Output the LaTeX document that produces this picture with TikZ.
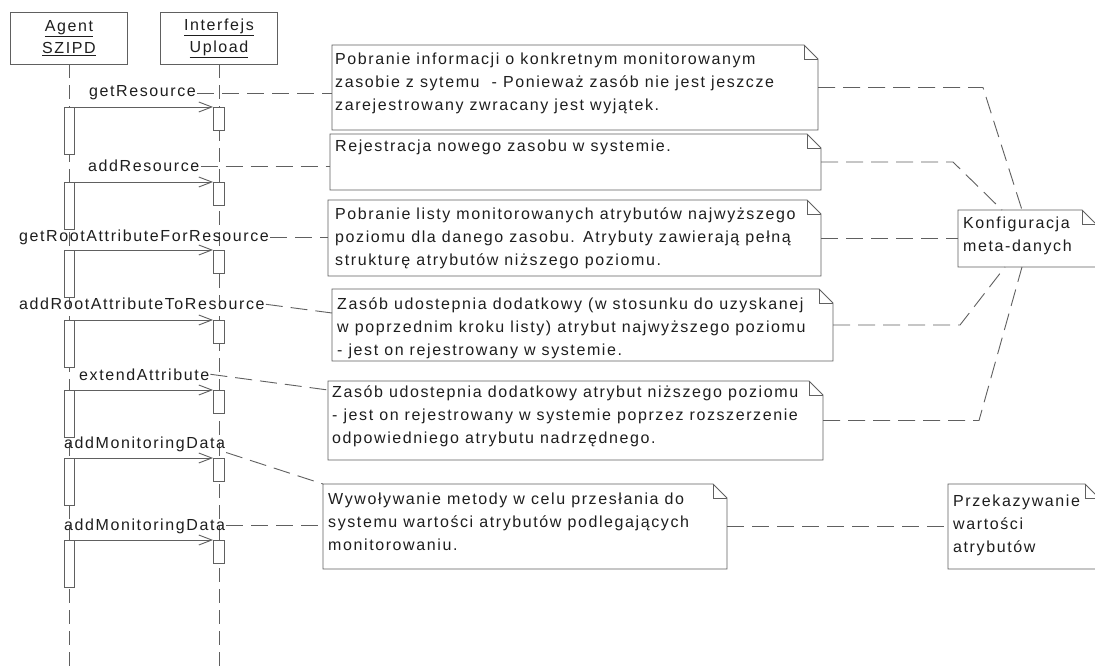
\documentclass[tikz,border=0pt]{standalone}
\usepackage{fontspec}
\setmainfont{Liberation Sans}[LetterSpace=10]
\usetikzlibrary{arrows.meta}
\definecolor{lc}{HTML}{606060}
\definecolor{txt}{HTML}{1E1E1E}

% multi-line note text; the node baseline is the first line's baseline
\newcommand\notelines[1]{\vtop{\halign{##\hfil\cr#1\crcr}}}
% UML note outline with a folded top-right corner
\newcommand\foldednote[1]{%
  \draw[ln] (#1.north west) -- ([xshift=-14pt]#1.north east)
    -- ([yshift=-14pt]#1.north east) -- (#1.south east)
    -- (#1.south west) -- cycle;
  \draw[ln] ([xshift=-14pt]#1.north east) |- ([yshift=-14pt]#1.north east);}

\begin{document}
\begin{tikzpicture}[x=1pt,y=-1pt,
  every node/.style={text=txt},
  ln/.style={draw=lc, line width=0.9pt},
  headbox/.style={draw=lc, line width=0.9pt, fill=white, minimum width=117pt,
    minimum height=52pt, inner sep=0pt, align=center,
    font=\fontsize{16}{22}\selectfont},
  actbar/.style={draw=lc, line width=0.9pt, fill=white, minimum width=10pt,
    inner sep=0pt, anchor=north},
  lifeline/.style={draw=lc, line width=0.9pt, dash pattern=on 14pt off 7pt},
  msg/.style={draw=lc, line width=0.9pt, -{Straight Barb[length=13pt,width=10pt]}},
  lbl/.style={inner sep=1pt, anchor=base west, font=\fontsize{16}{22}\selectfont},
  conn/.style={draw=lc, line width=0.9pt, dash pattern=on 17pt off 8pt},
  notebox/.style={draw=none, inner sep=0pt, outer sep=0pt, anchor=north west},
  notetext/.style={inner sep=0pt, anchor=base west, font=\fontsize{16}{23}\selectfont},
]
\fill[white] (0,0) rectangle (1095,668);
\useasboundingbox (0,0) rectangle (1095,668);

% lifeline heads
\node[headbox] (ha) at (69,38) {\underline{Agent}\\\underline{SZIPD}};
\node[headbox] (hb) at (219,38) {\underline{Interfejs}\\\underline{Upload}};
\coordinate (aend) at (69,668);
\coordinate (bend) at (219,668);
\draw[lifeline] (ha.south) -- (aend);
\draw[lifeline] (hb.south) -- (bend);

% activation bars
\foreach \i/\y in {1/107,2/182,3/250,4/320,5/390,6/458,7/540}{
  \node[actbar, minimum height=47pt] (a\i) at (69,\y) {};
  \node[actbar, minimum height=23pt, minimum width=11pt] (b\i) at (219,\y) {};
}

% messages
\foreach \i in {1,...,7}{
  \draw[msg] (a\i.north east) -- (b\i.north west);
}

% message labels
\node[lbl] (l1) at (88,97) {getResource};
\node[lbl] (l2) at (87,172) {addResource};
\node[lbl] (l3) at (18,242) {getRootAttributeForResource};
\node[lbl] (l4) at (18,310) {addRootAttributeToResource};
\node[lbl] (l5) at (78,380) {extendAttribute};
\node[lbl] (l6) at (63,448) {addMonitoringData};
\node[lbl] (l7) at (63,530) {addMonitoringData};

% notes
\node[notebox, minimum width=486pt, minimum height=85pt] (n1) at (332,45) {};
\node[notetext] (t1) at (335,65) {\notelines{Pobranie informacji o konkretnym monitorowanym\cr
  zasobie z sytemu~ - Ponieważ zasób nie jest jeszcze\cr
  zarejestrowany zwracany jest wyjątek.}};
\node[notebox, minimum width=491pt, minimum height=56pt] (n2) at (330,134) {};
\node[notetext] (t2) at (335,152) {\notelines{Rejestracja nowego zasobu w systemie.}};
\node[notebox, minimum width=493pt, minimum height=76pt] (n3) at (328,200) {};
\node[notetext] (t3) at (335,220) {\notelines{Pobranie listy monitorowanych atrybutów najwyższego\cr
  poziomu dla danego zasobu. Atrybuty zawierają pełną\cr
  strukturę atrybutów niższego poziomu.}};
\node[notebox, minimum width=501pt, minimum height=72pt] (n4) at (332,289) {};
\node[notetext] (t4) at (337,310) {\notelines{Zasób udostepnia dodatkowy (w stosunku do uzyskanej\cr
  w poprzednim kroku listy) atrybut najwyższego poziomu\cr
  - jest on rejestrowany w systemie.}};
\node[notebox, minimum width=495pt, minimum height=79pt] (n5) at (328,381) {};
\node[notetext] (t5) at (332,397) {\notelines{Zasób udostepnia dodatkowy atrybut niższego poziomu\cr
  - jest on rejestrowany w systemie poprzez rozszerzenie\cr
  odpowiedniego atrybutu nadrzędnego.}};
\node[notebox, minimum width=404pt, minimum height=85pt] (n6) at (323,484) {};
\node[notetext] (t6) at (328,504) {\notelines{Wywoływanie metody w celu przesłania do\cr
  systemu wartości atrybutów podlegających\cr
  monitorowaniu.}};
\node[notebox, minimum width=138pt, minimum height=57pt] (k) at (958,210) {};
\node[notetext] (tk) at (963,229) {\notelines{Konfiguracja\cr meta-danych}};
\node[notebox, minimum width=151pt, minimum height=85pt] (p) at (948,484) {};
\node[notetext] (tp) at (953,506) {\notelines{Przekazywanie\cr wartości\cr atrybutów}};

\foreach \n in {n1,n2,n3,n4,n5,n6,k,p}{\foldednote{\n}}

% anchors from messages to notes
\draw[conn] (l1.east) -- (l1.east -| n1.west);
\draw[conn] (l2.east) -- (l2.east -| n2.west);
\draw[conn] (l3.east) -- (l3.east -| n3.west);
\draw[conn] (l4.east) -- ([yshift=-24pt]n4.north west);
\draw[conn] (l5.east) -- ([yshift=-9pt]n5.north west);
\draw[conn] (l6.south east) -- (n6.north west);
\draw[conn] (l7.east) -- (l7.east -| n6.west);

% anchors from notes to the grouping notes
\draw[conn] (n1.east) -- ++(165,0) -- ([xshift=64pt]k.north west);
\draw[conn] (n2.east) -- ++(132,0) -- ([xshift=44pt]k.north west);
\draw[conn] (n3.east) -- (n3.east -| k.west);
\draw[conn] (n4.east) -- ++(127,0) -- ([xshift=47pt]k.south west);
\draw[conn] (n5.east) -- ++(156,0) -- ([xshift=64pt]k.south west);
\draw[conn] (n6.east) -- (n6.east -| p.west);
\end{tikzpicture}
\end{document}
